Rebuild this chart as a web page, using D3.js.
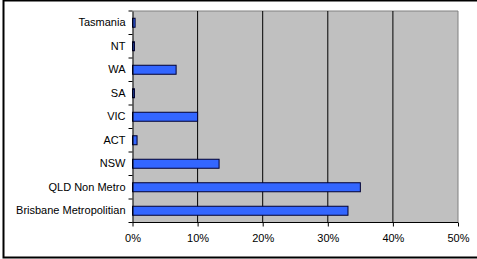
<!DOCTYPE html>
<html><head><meta charset="utf-8">
<script src="https://cdn.jsdelivr.net/npm/d3@7"></script>
<style>body{margin:0;background:#fff}svg{display:block}</style>
</head><body>
<script>
const categories = ["Tasmania","NT","WA","SA","VIC","ACT","NSW","QLD Non Metro","Brisbane Metropolitian"];
const values = [0.4, 0.3, 6.7, 0.3, 10.0, 0.7, 13.3, 35.0, 33.1];
const xTicks = [0,10,20,30,40,50];

const W=477,H=259;
const svg=d3.select("body").append("svg").attr("width",W).attr("height",H);
// outer frame
svg.append("rect").attr("x",3.5).attr("y",0.5).attr("width",W+5).attr("height",257).attr("fill","#fff").attr("stroke","#000").attr("stroke-width",2);

const L=132.5,R=458,T=11,B=222.5;
const x=d3.scaleLinear().domain([0,50]).range([L,R]);
const y=d3.scaleBand().domain(categories).range([T,B]);

svg.append("rect").attr("x",L).attr("y",T).attr("width",R-L).attr("height",B-T).attr("fill","#c0c0c0");
// plot border
svg.append("path").attr("d",`M${L},${T}H${R}V${B}`).attr("fill","none").attr("stroke","#808080").attr("stroke-width",1);
// gridlines
svg.selectAll(".grid").data(xTicks.slice(1,-1)).enter().append("line")
 .attr("x1",d=>x(d)).attr("x2",d=>x(d)).attr("y1",T).attr("y2",B).attr("stroke","#000").attr("stroke-width",1);

// bars
const bh=9;
svg.selectAll(".bar").data(categories).enter().append("rect")
 .attr("x",L).attr("y",(d)=>y(d)+y.bandwidth()/2-bh/2)
 .attr("width",(d,i)=>x(values[i])-L).attr("height",bh)
 .attr("fill","#3366ff").attr("stroke","#000033").attr("stroke-width",1);

const FONT="Liberation Sans, Arial, sans-serif";
// y axis
const ya=d3.axisLeft(y).tickSize(0).tickPadding(7);
const yg=svg.append("g").attr("transform",`translate(${L},0)`).call(ya);
yg.select(".domain").attr("stroke","#000");
yg.selectAll("text").attr("font-family",FONT).attr("font-size","11px").attr("fill","#000");
// y ticks at band boundaries
const bounds=categories.map(c=>y(c)).concat([B]);
svg.selectAll(".yt").data(bounds).enter().append("line")
 .attr("x1",L-4).attr("x2",L).attr("y1",d=>d).attr("y2",d=>d).attr("stroke","#000");

// x axis
const xa=d3.axisBottom(x).tickValues(xTicks).tickFormat(d=>d+"%").tickSize(4).tickPadding(8);
const xg=svg.append("g").attr("transform",`translate(0,${B})`).call(xa);
xg.select(".domain").remove();
xg.append("line").attr("x1",L).attr("x2",R).attr("stroke","#000");
xg.selectAll("text").attr("font-family",FONT).attr("font-size","11px").attr("fill","#000");
</script>
</body></html>
